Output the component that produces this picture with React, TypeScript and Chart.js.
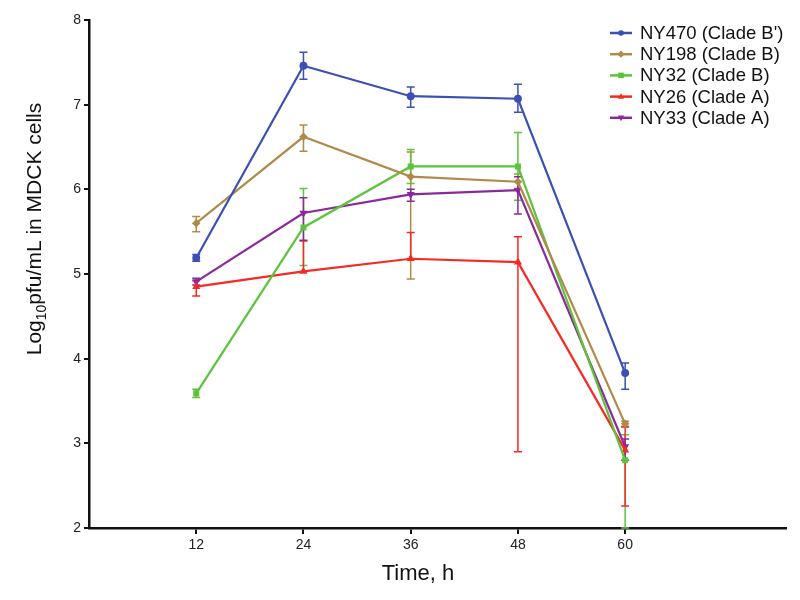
import React, { useEffect, useRef } from "react";
import { Chart, registerables } from "chart.js";

Chart.register(...registerables);

const times = [12, 24, 36, 48, 60];
const xTickValues = [12, 24, 36, 48, 60];
const yTickValues = [2, 3, 4, 5, 6, 7, 8];

const seriesNames = ["NY470 (Clade B')", "NY198 (Clade B)", "NY32 (Clade B)", "NY26 (Clade A)", "NY33 (Clade A)"];

const ny470Mean = [5.19, 7.46, 7.1, 7.07, 3.83];
const ny470Low = [5.15, 7.3, 6.97, 6.91, 3.64];
const ny470High = [5.23, 7.62, 7.21, 7.24, 3.95];

const ny198Mean = [5.6, 6.62, 6.15, 6.09, 3.23];
const ny198Low = [5.5, 6.45, 4.94, 6.0, 3.19];
const ny198High = [5.68, 6.76, 6.44, 6.18, 3.26];

const ny32Mean = [3.59, 5.55, 6.27, 6.27, 2.8];
const ny32Low = [3.54, 5.1, 6.07, 5.87, 2.0];
const ny32High = [3.64, 6.01, 6.47, 6.67, 3.1];

const ny26Mean = [4.85, 5.03, 5.18, 5.14, 2.92];
const ny26Low = [4.74, 5.03, 5.18, 2.9, 2.26];
const ny26High = [4.92, 5.39, 5.49, 5.44, 3.2];

const ny33Mean = [4.91, 5.72, 5.94, 5.99, 2.96];
const ny33Low = [4.87, 5.4, 5.86, 5.71, 2.8];
const ny33High = [4.95, 5.9, 6.0, 6.15, 3.05];

const colors = ["#3c4fb4", "#b08a4a", "#5cc43c", "#f52a22", "#8a2a9a"];
const pointStyles = ["circle", "rectRot", "rect", "triangle", "triangle"];
const pointRotations = [0, 0, 0, 0, 180];

const means = [ny470Mean, ny198Mean, ny32Mean, ny26Mean, ny33Mean];
const lows = [ny470Low, ny198Low, ny32Low, ny26Low, ny33Low];
const highs = [ny470High, ny198High, ny32High, ny26High, ny33High];

const FONT = "'Liberation Sans', Arial, sans-serif";

function drawMarker(ctx: CanvasRenderingContext2D, style: string, rot: number, x: number, y: number, r: number) {
  ctx.beginPath();
  if (style === "circle") {
    ctx.arc(x, y, r, 0, Math.PI * 2);
  } else if (style === "rect") {
    ctx.rect(x - r, y - r, 2 * r, 2 * r);
  } else if (style === "rectRot") {
    ctx.moveTo(x, y - r * 1.3);
    ctx.lineTo(x + r * 1.3, y);
    ctx.lineTo(x, y + r * 1.3);
    ctx.lineTo(x - r * 1.3, y);
    ctx.closePath();
  } else if (style === "triangle") {
    const s = rot === 180 ? -1 : 1;
    ctx.moveTo(x, y - s * r * 1.2);
    ctx.lineTo(x + r * 1.1, y + s * r * 0.8);
    ctx.lineTo(x - r * 1.1, y + s * r * 0.8);
    ctx.closePath();
  }
  ctx.fill();
}

const errorBarPlugin = {
  id: "errorBars",
  beforeDatasetsDraw(chart: any) {
    const ctx = chart.ctx;
    const xs = chart.scales.x;
    const ys = chart.scales.y;
    ctx.save();
    chart.data.datasets.forEach((ds: any, i: number) => {
      ctx.strokeStyle = ds.borderColor;
      ctx.lineWidth = 1.5;
      times.forEach((t, j) => {
        const x = xs.getPixelForValue(t);
        const y1 = ys.getPixelForValue(lows[i][j]);
        const y2 = ys.getPixelForValue(highs[i][j]);
        ctx.beginPath();
        ctx.moveTo(x, y1);
        ctx.lineTo(x, y2);
        if (lows[i][j] < means[i][j]) {
          ctx.moveTo(x - 4, y1);
          ctx.lineTo(x + 4, y1);
        }
        if (highs[i][j] > means[i][j]) {
          ctx.moveTo(x - 4, y2);
          ctx.lineTo(x + 4, y2);
        }
        ctx.stroke();
      });
    });
    ctx.restore();
  },
};

const textPlugin = {
  id: "texts",
  afterDraw(chart: any) {
    const ctx = chart.ctx;
    ctx.save();
    // Legend
    ctx.font = "18.5px " + FONT;
    ctx.textBaseline = "middle";
    ctx.textAlign = "left";
    const x0 = 610;
    const y0 = 33;
    const dy = 21.2;
    chart.data.datasets.forEach((ds: any, i: number) => {
      const y = y0 + i * dy;
      ctx.strokeStyle = ds.borderColor;
      ctx.lineWidth = 2.5;
      ctx.beginPath();
      ctx.moveTo(x0, y);
      ctx.lineTo(x0 + 22, y);
      ctx.stroke();
      ctx.fillStyle = ds.borderColor;
      drawMarker(ctx, pointStyles[i], pointRotations[i], x0 + 11, y, 2.8);
      ctx.fillStyle = "#111";
      ctx.fillText(ds.label, x0 + 30, y + 1);
    });
    // X title
    ctx.font = "22px " + FONT;
    ctx.textAlign = "center";
    ctx.textBaseline = "middle";
    ctx.fillStyle = "#111";
    ctx.fillText("Time, h", 418, 574);
    // Y title with subscript
    ctx.translate(34, 229);
    ctx.rotate(-Math.PI / 2);
    const big = "21px " + FONT;
    const small = "14px " + FONT;
    const p1 = "Log";
    const p2 = "10";
    const p3 = "pfu/mL in MDCK cells";
    ctx.font = big;
    const w1 = ctx.measureText(p1).width;
    const w3 = ctx.measureText(p3).width;
    ctx.font = small;
    const w2 = ctx.measureText(p2).width;
    const total = w1 + w2 + w3;
    let cx = -total / 2;
    ctx.textAlign = "left";
    ctx.textBaseline = "alphabetic";
    ctx.font = big;
    ctx.fillText(p1, cx, 7);
    cx += w1;
    ctx.font = small;
    ctx.fillText(p2, cx, 12);
    cx += w2;
    ctx.font = big;
    ctx.fillText(p3, cx, 7);
    ctx.restore();
  },
};

export default function App() {
  const ref = useRef<HTMLCanvasElement | null>(null);
  useEffect(() => {
    if (!ref.current) return;
    const chart = new Chart(ref.current, {
      type: "line",
      data: {
        datasets: seriesNames.map((name, i) => ({
          label: name,
          data: times.map((t, j) => ({ x: t, y: means[i][j] })),
          borderColor: colors[i],
          backgroundColor: colors[i],
          borderWidth: 2.2,
          pointStyle: pointStyles[i] as any,
          rotation: pointRotations[i],
          pointRadius: 3.2,
          pointBorderWidth: 1.5,
          tension: 0,
        })),
      },
      options: {
        animation: false,
        responsive: false,
        maintainAspectRatio: false,
        layout: { padding: { left: 0, right: 14, top: 20, bottom: 0 } },
        plugins: { legend: { display: false }, tooltip: { enabled: false } },
        scales: {
          x: {
            type: "linear",
            min: 0,
            max: 78,
            afterBuildTicks: (axis: any) => {
              axis.ticks = xTickValues.map((v) => ({ value: v }));
            },
            afterFit: (axis: any) => {
              axis.height = 72;
            },
            grid: { display: true, drawOnChartArea: false, drawTicks: true, tickLength: 6, color: "#111", lineWidth: 2 },
            border: { display: true, color: "#111", width: 2.5 },
            ticks: { color: "#222", font: { size: 14, family: FONT }, padding: 3, maxRotation: 0 },
          },
          y: {
            type: "linear",
            min: 2,
            max: 8,
            afterBuildTicks: (axis: any) => {
              axis.ticks = yTickValues.map((v) => ({ value: v }));
            },
            afterFit: (axis: any) => {
              axis.width = 89;
            },
            grid: { display: true, drawOnChartArea: false, drawTicks: true, tickLength: 5, color: "#111", lineWidth: 2 },
            border: { display: true, color: "#111", width: 2.5 },
            ticks: { color: "#222", font: { size: 14, family: FONT }, padding: 3 },
          },
        },
      },
      plugins: [errorBarPlugin, textPlugin],
    });
    return () => chart.destroy();
  }, []);
  return (
    <div style={{ position: "absolute", left: 0, top: 0, width: 800, height: 600, background: "#fff" }}>
      <canvas ref={ref} width={800} height={600} style={{ width: 800, height: 600 }} />
    </div>
  );
}
